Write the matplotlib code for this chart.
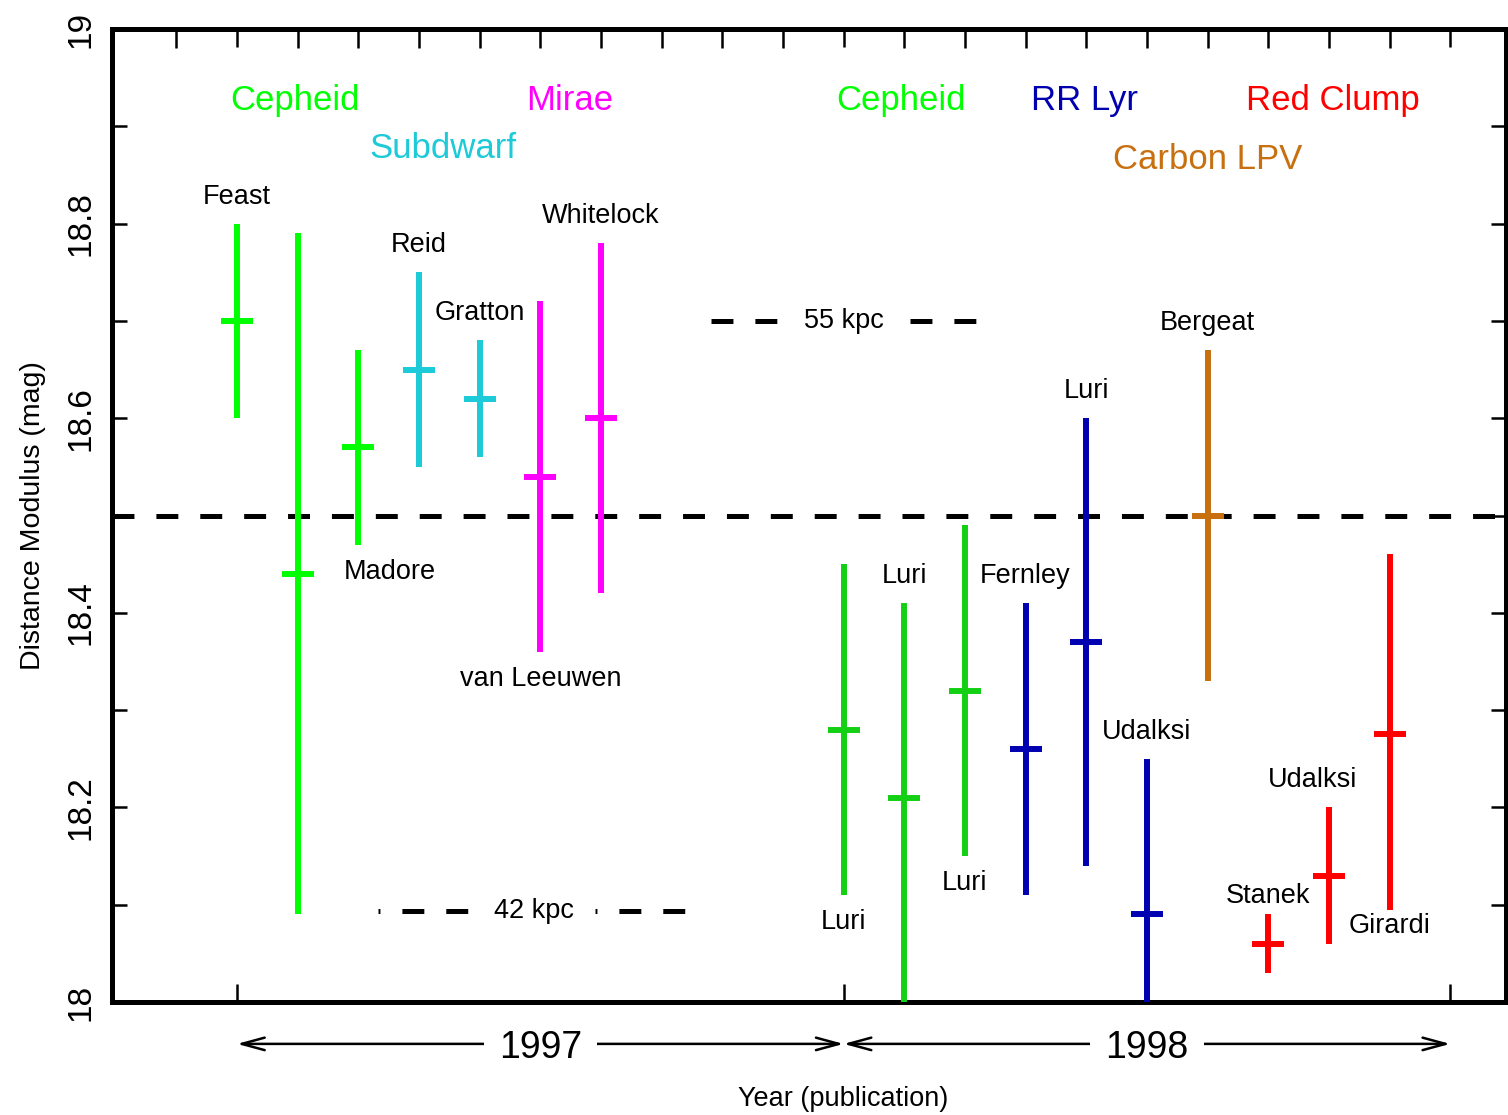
import numpy as np
import matplotlib
matplotlib.use('Agg')
import matplotlib.pyplot as plt
import matplotlib.transforms as mtransforms

plt.rcParams['font.family'] = ['Liberation Sans Narrow', 'Liberation Sans', 'DejaVu Sans']
plt.rcParams['lines.scale_dashes'] = False

# distance modulus estimates to the LMC, by publication date
year = [1997.0, 1997.1, 1997.2, 1997.3, 1997.4, 1997.5, 1997.6,
        1998.0, 1998.1, 1998.2, 1998.3, 1998.4, 1998.5, 1998.6, 1998.7, 1998.8, 1998.9]
mu = [18.70, 18.44, 18.57, 18.65, 18.62, 18.54, 18.60,
      18.28, 18.21, 18.32, 18.26, 18.37, 18.09, 18.50, 18.06, 18.13, 18.275]
err_hi = [0.10, 0.35, 0.10, 0.10, 0.06, 0.18, 0.18,
          0.17, 0.20, 0.17, 0.15, 0.23, 0.16, 0.17, 0.03, 0.07, 0.185]
err_lo = [0.10, 0.35, 0.10, 0.10, 0.06, 0.18, 0.18,
          0.17, 0.22, 0.17, 0.15, 0.23, 0.16, 0.17, 0.03, 0.07, 0.18]
author = ['Feast', '', 'Madore', 'Reid', 'Gratton', 'van Leeuwen', 'Whitelock',
          'Luri', 'Luri', 'Luri', 'Fernley', 'Luri', 'Udalksi', 'Bergeat', 'Stanek', 'Udalksi', 'Girardi']
side = ['top', 'top', 'bottom', 'top', 'top', 'bottom', 'top',
        'bottom', 'top', 'bottom', 'top', 'top', 'top', 'top', 'top', 'top', 'bottom']
method = ['Cepheid', 'Cepheid', 'Cepheid', 'Subdwarf', 'Subdwarf', 'Mirae', 'Mirae',
          'Cepheid98', 'Cepheid98', 'Cepheid98', 'RR Lyr', 'RR Lyr', 'RR Lyr',
          'Carbon LPV', 'Red Clump', 'Red Clump', 'Red Clump']

colors = {'Cepheid': '#00ff00', 'Subdwarf': '#1ccad8', 'Mirae': '#ff00ff',
          'Cepheid98': '#14d014', 'RR Lyr': '#0000b0', 'Carbon LPV': '#c87010',
          'Red Clump': '#ff0000'}

# method labels
group_names = ['Cepheid', 'Subdwarf', 'Mirae', 'Cepheid', 'RR Lyr', 'Red Clump', 'Carbon LPV']
group_keys = ['Cepheid', 'Subdwarf', 'Mirae', 'Cepheid', 'RR Lyr', 'Red Clump', 'Carbon LPV']
group_x = [1997.095, 1997.34, 1997.548, 1998.095, 1998.397, 1998.807, 1998.6]
group_y = [18.927, 18.877, 18.927, 18.927, 18.926, 18.926, 18.866]

mu_ref = 18.5

fig = plt.figure(figsize=(15.08, 11.15), dpi=100)
ax = fig.add_axes([0.0743, 0.1013, 0.9244, 0.8727])
ax.set_xlim(1996.794, 1999.092)
ax.set_ylim(18.0, 19.0)

dash = (0, (15.8, 15.8))
ax.axhline(mu_ref, color='black', lw=3.6, ls=dash, zorder=1)

# 55 kpc and 42 kpc markers
ax.plot([1997.781, 1997.890], [18.70, 18.70], color='black', lw=3.6, ls=dash)
ax.plot([1998.109, 1998.220], [18.70, 18.70], color='black', lw=3.6, ls=dash)
ax.text(1998.0, 18.70, '55 kpc', ha='center', va='center', fontsize=19.5)
ax.plot([1997.232, 1997.386], [18.094, 18.094], color='black', lw=3.6, ls=(14.4, (15.8, 15.8)))
ax.plot([1997.590, 1997.742], [18.094, 18.094], color='black', lw=3.6, ls=(14.4, (15.8, 15.8)))
ax.text(1997.49, 18.094, '42 kpc', ha='center', va='center', fontsize=19.5)

label_dx = {2: 23, 15: -11.5}
label_dy = {14: 13, 16: 12}
for i in range(len(year)):
    c = colors[method[i]]
    ax.errorbar(year[i], mu[i], yerr=[[err_lo[i]], [err_hi[i]]], fmt='_', color=c, ms=23,
                mew=4.3, elinewidth=4.3, capsize=0, zorder=3)
    if author[i]:
        dy = label_dy.get(i, 19.5)
        if side[i] == 'top':
            yy, off = mu[i] + err_hi[i], dy
        else:
            yy, off = mu[i] - err_lo[i], -dy
        ax.annotate(author[i], (year[i], yy), xytext=(label_dx.get(i, 0), off),
                    textcoords='offset points', ha='center', va='center', fontsize=19.5)

for name, key, gx, gy in zip(group_names, group_keys, group_x, group_y):
    ax.text(gx, gy, name, color=colors[key], ha='center', va='center', fontsize=25)

# axes styling
for s in ax.spines.values():
    s.set_linewidth(3.6)
ax.set_yticks(np.arange(18.0, 19.01, 0.2))
ax.set_yticks(np.arange(18.1, 19.0, 0.2), minor=True)
ax.set_yticklabels(['%g' % v for v in np.arange(18.0, 19.01, 0.2)], rotation=90, va='center')
ax.tick_params(axis='y', which='both', direction='in', left=True, right=True,
               length=11, width=1.8, labelsize=24, pad=11)
ax.set_xticks([1997, 1998, 1999])
ax.set_xticks(np.arange(1996.9, 1999.01, 0.1), minor=True)
ax.tick_params(axis='x', which='major', direction='in', top=True, bottom=True,
               length=13, width=1.8, labelbottom=False)
ax.tick_params(axis='x', which='minor', direction='in', top=True, bottom=False,
               length=14, width=1.8)

ax.set_ylabel('Distance Modulus (mag)', fontsize=20.5, labelpad=14)

# year spans under the axis
trans = mtransforms.blended_transform_factory(ax.transData, ax.transAxes)
spans = [(1997.0, 1998.0, '1997'), (1998.0, 1999.0, '1998')]
for x0, x1, lab in spans:
    ax.annotate('', xy=(x0, -0.043), xytext=(x1, -0.043), xycoords=trans, textcoords=trans,
                arrowprops=dict(arrowstyle='<->,head_length=1.65,head_width=0.45',
                                lw=1.8, color='black', shrinkA=0, shrinkB=0),
                annotation_clip=False)
    ax.text((x0 + x1) / 2, -0.047, lab, transform=trans, ha='center', va='center',
            fontsize=27, bbox=dict(boxstyle='square,pad=0.4', fc='white', ec='none'))

ax.text(1998.0, -0.1, 'Year (publication)', transform=trans, ha='center', va='center',
        fontsize=19.5)

fig.savefig('out.png', dpi=100)
